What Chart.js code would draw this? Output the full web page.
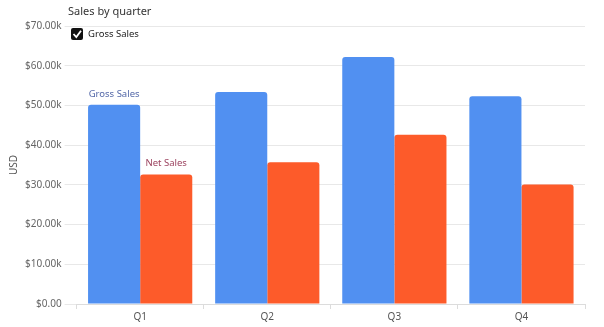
<!DOCTYPE html>
<html>
<head>
<meta charset="utf-8">
<script src="https://cdn.jsdelivr.net/npm/chart.js@4.4.1/dist/chart.umd.min.js"></script>
<style>
  html, body { margin: 0; padding: 0; background: #fff; }
  #wrap { width: 604px; height: 327px; }
</style>
</head>
<body>
<div id="wrap"><canvas id="salesChart"></canvas></div>
<script>
// data
const quarters = ['Q1', 'Q2', 'Q3', 'Q4'];
const grossSales = [50200, 53400, 62200, 52300];
const netSales = [32600, 35700, 42600, 30100];
const yTicks = [0, 10000, 20000, 30000, 40000, 50000, 60000, 70000];

const FONT = '"Noto Sans", "Open Sans", sans-serif';

// title, checkbox legend and the series labels over Q1
const overlay = {
  id: 'overlay',
  afterDraw(chart) {
    const c = chart.ctx;
    c.save();
    c.textBaseline = 'middle';
    c.textAlign = 'left';
    c.fillStyle = '#333';
    c.font = '11px ' + FONT;
    c.fillText('Sales by quarter', 68, 12);

    // checkbox
    c.fillStyle = '#111';
    c.beginPath();
    c.roundRect(71, 28, 12, 12, 2);
    c.fill();
    c.strokeStyle = '#fff';
    c.lineWidth = 1.8;
    c.beginPath();
    c.moveTo(73.5, 34);
    c.lineTo(76.3, 37);
    c.lineTo(81, 30.8);
    c.stroke();
    c.fillStyle = '#222';
    c.font = '9.5px ' + FONT;
    c.fillText('Gross Sales', 88, 34);

    c.textAlign = 'center';
    const g = chart.getDatasetMeta(0).data[0];
    const n = chart.getDatasetMeta(1).data[0];
    c.fillStyle = '#5468a8';
    c.fillText('Gross Sales', g.x, g.y - 10);
    c.fillStyle = '#9a3f5c';
    c.fillText('Net Sales', n.x, n.y - 11);
    c.restore();
  }
};

const ctx = document.getElementById('salesChart').getContext('2d');
const salesChart = new Chart(ctx, {
  type: 'bar',
  data: {
    labels: quarters,
    datasets: [{
      label: 'Gross Sales',
      data: grossSales,
      backgroundColor: '#5190f1',
      borderRadius: { topLeft: 3, topRight: 3 },
      borderSkipped: 'start'
    }, {
      label: 'Net Sales',
      data: netSales,
      backgroundColor: '#fd5b2a',
      borderRadius: { topLeft: 3, topRight: 3 },
      borderSkipped: 'start'
    }]
  },
  options: {
    responsive: true,
    maintainAspectRatio: false,
    animation: false,
    categoryPercentage: 0.82,
    barPercentage: 1,
    layout: { padding: { top: 26, right: 19, bottom: 2, left: 8 } },
    plugins: {
      legend: { display: false },
      title: { display: false },
      tooltip: { enabled: false }
    },
    scales: {
      x: {
        grid: { display: true, drawOnChartArea: false, drawTicks: true, tickLength: 5, color: '#dcdcdc' },
        border: { display: true, color: '#dcdcdc' },
        ticks: { color: '#555', padding: 2, font: { family: FONT, size: 10 } }
      },
      y: {
        min: 0,
        max: 70000,
        afterBuildTicks(scale) {
          scale.ticks = yTicks.map(v => ({ value: v }));
        },
        grid: { color: '#e8e8e8', tickLength: 12 },
        border: { display: false },
        ticks: {
          color: '#666',
          padding: 3,
          font: { family: FONT, size: 10 },
          callback: v => '$' + (v / 1000).toFixed(2) + (v === 0 ? '' : 'k')
        },
        title: { display: true, text: 'USD', color: '#555', padding: { top: 0, bottom: 2 }, font: { family: FONT, size: 10 } }
      }
    }
  },
  plugins: [overlay]
});
</script>
</body>
</html>
